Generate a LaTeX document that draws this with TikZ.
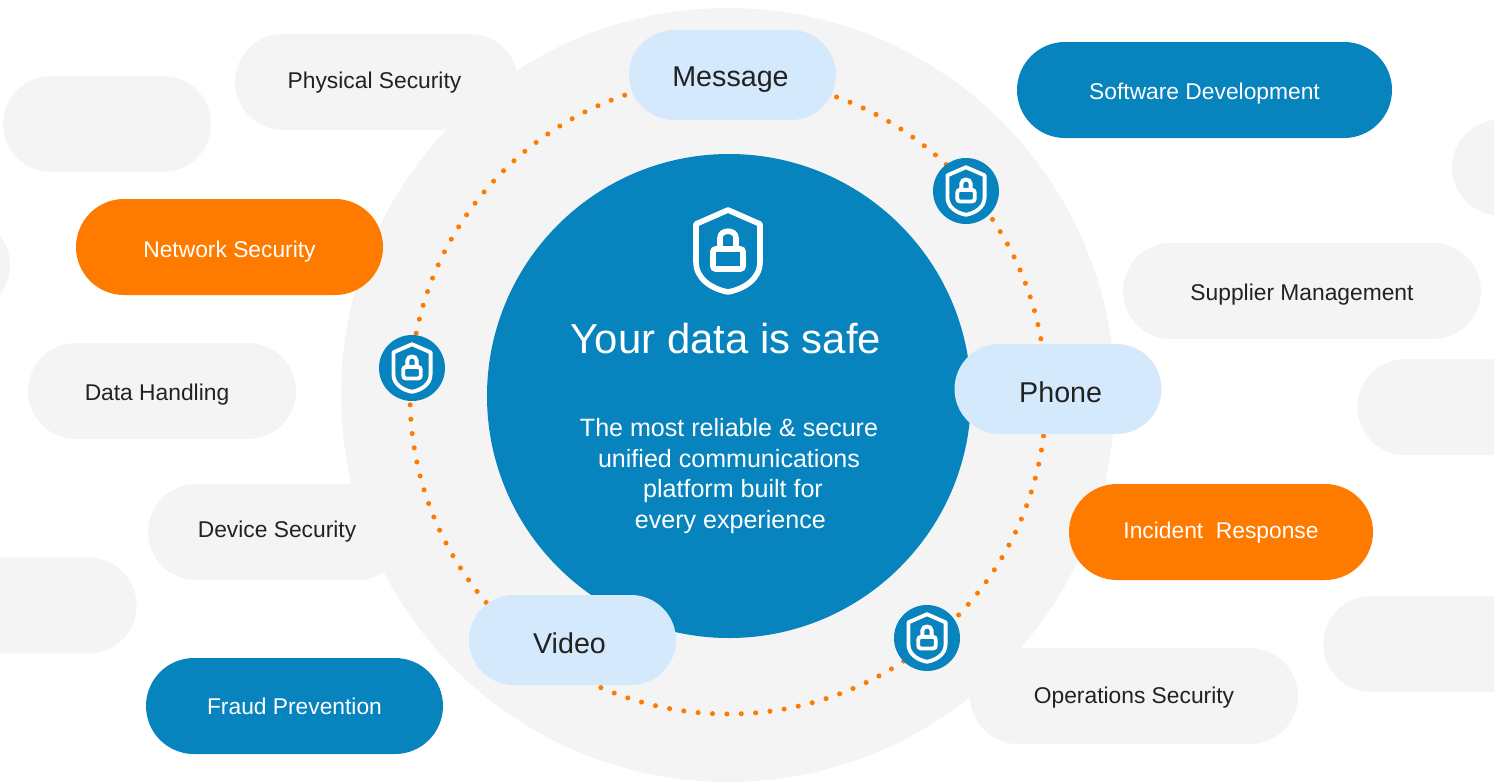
\documentclass[tikz,border=0pt]{standalone}
\usepackage{fontspec}
\setmainfont{Liberation Sans}
\usetikzlibrary{shapes.misc}
\definecolor{backgrey}{HTML}{F4F4F4}
\definecolor{coreblue}{HTML}{0783BE}
\definecolor{paleblue}{HTML}{D5E9FC}
\definecolor{hotorange}{HTML}{FF7B00}
\definecolor{inktext}{HTML}{222222}
\tikzset{
	pillbox/.style={rounded rectangle,inner sep=0pt,minimum height=72pt,font=\fontsize{17.1}{20}\selectfont},
	greypill/.style={pillbox,fill=backgrey,text=inktext},
	bluepill/.style={pillbox,fill=coreblue,text=white},
	orangepill/.style={pillbox,fill=hotorange,text=white},
	palepill/.style={pillbox,fill=paleblue,text=inktext,minimum width=155.25pt,minimum height=67.5pt,font=\fontsize{21.5}{25}\selectfont},
	badge/.style={circle,fill=coreblue,inner sep=0pt,minimum size=49.5pt},
	textdrop/.style={text height=#1pt},
	pics/shieldlock/.style={code={
		\draw[white,line join=round] (0,-41) -- (32,-27) -- (32,11) .. controls (32,28) and (16,38) .. (0,41) .. controls (-16,38) and (-32,28) .. (-32,11) -- (-32,-27) -- cycle;
		\draw[white,rounded corners=2pt] (-15,-2) rectangle (15,18);
		\draw[white] (-8,-2) -- (-8,-13) .. controls (-8,-22) and (8,-22) .. (8,-13) -- (8,-2);
	}}
}
\begin{document}
\begin{tikzpicture}[x=0.75pt,y=-0.75pt]
	\useasboundingbox (0,0) rectangle (1494,782);
	\node[circle,fill=backgrey,inner sep=0pt,minimum size=580.5pt] (back) at (728,395) {};
	\node[greypill,minimum width=156pt] (blankone) at (107,124) {};
	\node[greypill,minimum width=156pt] (blanktwo) at (-94,265) {};
	\node[greypill,minimum width=178pt] (blankthree) at (18,605.5) {};
	\node[greypill,minimum width=156pt] (blankfour) at (1556,167.5) {};
	\node[greypill,minimum width=178pt] (blankfive) at (1476,407) {};
	\node[greypill,minimum width=178pt] (blanksix) at (1442,644) {};
	\node[greypill,minimum width=212.25pt,textdrop=14] (physical) at (376.5,82) {Physical Security\hspace*{3pt}};
	\node[greypill,minimum width=201pt,textdrop=18.5] (handling) at (162,391) {Data Handling\hspace*{7.5pt}};
	\node[greypill,minimum width=193.5pt,textdrop=12.5] (device) at (277,532) {Device Security};
	\node[greypill,minimum width=268.5pt,textdrop=18.5] (supplier) at (1302,291) {Supplier Management};
	\node[greypill,minimum width=246pt,textdrop=15.5] (operations) at (1134,696) {Operations Security};
	\node[bluepill,minimum width=281.25pt,textdrop=18.5] (software) at (1204.5,90) {Software Development};
	\node[bluepill,minimum width=222.75pt,textdrop=12.5] (fraud) at (294.5,706) {Fraud Prevention};
	\node[orangepill,minimum width=230.25pt,textdrop=20] (network) at (229.5,247) {Network Security};
	\node[orangepill,minimum width=228pt,textdrop=14] (incident) at (1221,532) {Incident~ Response};
	\node[circle,draw=hotorange,line width=3.8pt,line cap=round,dash pattern=on 0pt off 10.8pt,inner sep=0pt,minimum size=477pt] (ring) at (728,396) {};
	\node[circle,fill=coreblue,inner sep=0pt,minimum size=363pt] (core) at (729,396) {};
	\pic[line width=4.2pt] (bigshield) at (728,251) {shieldlock};
	\node[text=white,font=\fontsize{31.4}{36}\selectfont] (title) at (726,339) {Your data is safe};
	\node[text=white,align=center,font=\fontsize{18.8}{22.9}\selectfont] (blurb) at (729,476) {The most reliable \& secure\\unified communications\\\hspace{6pt}platform built for\\\hspace{2pt}every experience};
	\node[palepill,textdrop=22] (message) at (732.5,75) {Message\hspace*{3pt}};
	\node[palepill,textdrop=20.2] (phone) at (1058,389) {\hspace*{4pt}Phone};
	\node[palepill,textdrop=20.2] (video) at (572.5,640) {Video\hspace*{4.5pt}};
	\node[badge] (lockone) at (966,191) {};
	\node[badge] (locktwo) at (412,368) {};
	\node[badge] (lockthree) at (927,638) {};
	\pic[scale=.58,line width=2.9pt] (shieldone) at (966,191) {shieldlock};
	\pic[scale=.58,line width=2.9pt] (shieldtwo) at (412,368) {shieldlock};
	\pic[scale=.58,line width=2.9pt] (shieldthree) at (927,638) {shieldlock};
\end{tikzpicture}
\end{document}
